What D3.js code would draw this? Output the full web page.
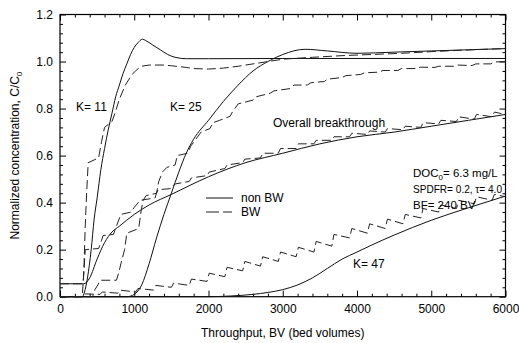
<!DOCTYPE html>
<html>
<head>
<meta charset="utf-8">
<script src="https://cdn.jsdelivr.net/npm/d3@7"></script>
<style>
  html, body { margin: 0; padding: 0; background: #fff; }
  svg text { font-family: "Liberation Sans", Arial, Helvetica, sans-serif; fill: #000; }
</style>
</head>
<body>
<svg id="chart" width="519" height="343"></svg>
<script>
// Breakthrough curves, [throughput BV, C/C0]
const k11NonBW = [[0,0],[300,0],[330,0.02],[370,0.08],[420,0.2],[460,0.33],[500,0.42],[550,0.54],[600,0.63],[650,0.71],[700,0.78],[750,0.85],[800,0.9],[850,0.95],[900,0.99],[950,1.03],[1000,1.06],[1050,1.08],[1110,1.095],[1150,1.09],[1250,1.07],[1350,1.05],[1450,1.03],[1550,1.018],[1700,1.012],[2000,1.012],[3000,1.013],[4000,1.013],[5000,1.013],[6000,1.013]];
const k11BW = [[0,0],[300,0],[320,0.1],[340,0.3],[360,0.45],[380,0.57],[520,0.59],[560,0.66],[600,0.72],[700,0.745],[740,0.78],[800,0.84],[880,0.9],[960,0.94],[1000,0.955],[1060,0.972],[1100,0.98],[1200,0.985],[1400,0.985],[1500,0.982],[1700,0.975],[1800,0.97],[2000,0.968],[2200,0.972],[2400,0.98],[2600,0.99],[2800,1.0],[3000,1.01],[3400,1.018],[3800,1.025],[4200,1.03],[4600,1.035],[5000,1.042],[5400,1.048],[5800,1.053],[6000,1.055]];

const k25NonBW = [[0,0],[900,0],[1000,0.01],[1100,0.05],[1200,0.14],[1300,0.25],[1400,0.35],[1500,0.44],[1600,0.53],[1700,0.61],[1800,0.67],[2000,0.75],[2200,0.83],[2400,0.9],[2600,0.96],[2800,1.0],[3000,1.03],[3300,1.052],[3600,1.045],[4000,1.035],[4500,1.04],[5000,1.045],[5500,1.05],[6000,1.055]];
const k25BW = [[0,0],[440,0],[470,0.03],[510,0.05],[540,0.07],[760,0.07],[790,0.1],[820,0.14],[870,0.2],[900,0.27],[1060,0.29],[1090,0.36],[1120,0.41],[1160,0.43],[1300,0.44],[1330,0.49],[1380,0.53],[1440,0.55],[1550,0.56],[1580,0.6],[1720,0.61],[1760,0.64],[1830,0.67],[1900,0.7],[2020,0.715],[2060,0.74],[2150,0.75],[2290,0.767],[2330,0.79],[2400,0.82],[2600,0.836],[2640,0.85],[2830,0.865],[2880,0.875],[3100,0.885],[3150,0.9],[3330,0.9],[3380,0.91],[3560,0.915],[3600,0.925],[3800,0.932],[3850,0.94],[4050,0.945],[4100,0.952],[4300,0.955],[4350,0.962],[4550,0.962],[4600,0.97],[4800,0.97],[4850,0.976],[5050,0.975],[5100,0.98],[5300,0.98],[5350,0.985],[5550,0.983],[5600,0.99],[5800,0.99],[5850,0.998],[6000,1.0]];

const k47NonBW = [[0,0],[2000,0],[2300,0.003],[2600,0.01],[2800,0.018],[3000,0.03],[3200,0.05],[3400,0.08],[3600,0.12],[3800,0.16],[4000,0.19],[4200,0.22],[4500,0.262],[5000,0.325],[5500,0.378],[6000,0.428]];
const k47BW = [[0,0],[300,0],[330,0.012],[540,0.01],[570,0.02],[780,0.015],[810,0.028],[1020,0.02],[1050,0.035],[1260,0.028],[1290,0.048],[1500,0.04],[1530,0.058],[1740,0.048],[1770,0.075],[1980,0.065],[2010,0.1],[2220,0.085],[2250,0.125],[2460,0.11],[2490,0.15],[2700,0.13],[2730,0.17],[2940,0.15],[2970,0.19],[3180,0.17],[3210,0.21],[3420,0.19],[3450,0.235],[3660,0.215],[3690,0.265],[3900,0.25],[3930,0.29],[4140,0.27],[4170,0.31],[4380,0.29],[4410,0.33],[4620,0.31],[4650,0.35],[4860,0.335],[4890,0.375],[5100,0.36],[5130,0.39],[5340,0.375],[5370,0.41],[5580,0.395],[5610,0.425],[5820,0.41],[5850,0.435],[6000,0.425]];

const overallNonBW = [[0,0.055],[320,0.055],[400,0.08],[500,0.16],[600,0.23],[700,0.275],[800,0.3],[1000,0.35],[1200,0.39],[1500,0.435],[2000,0.51],[2500,0.57],[3000,0.61],[3500,0.65],[4000,0.68],[4500,0.7],[5000,0.725],[5500,0.75],[6000,0.775]];
const overallBW = [[0,0.055],[310,0.055],[325,0.12],[340,0.2],[520,0.205],[560,0.24],[580,0.26],[720,0.265],[760,0.3],[820,0.35],[960,0.36],[1000,0.38],[1080,0.41],[1280,0.42],[1300,0.44],[1320,0.455],[1500,0.46],[1530,0.475],[1560,0.48],[1740,0.49],[1770,0.505],[1980,0.515],[2010,0.53],[2220,0.545],[2250,0.56],[2460,0.57],[2490,0.585],[2700,0.59],[2730,0.61],[2940,0.61],[2970,0.63],[3180,0.63],[3210,0.65],[3420,0.65],[3450,0.665],[3660,0.665],[3690,0.68],[3900,0.68],[3930,0.695],[4140,0.69],[4170,0.705],[4380,0.7],[4410,0.715],[4620,0.71],[4650,0.725],[4860,0.72],[4890,0.74],[5100,0.735],[5130,0.75],[5340,0.745],[5370,0.765],[5580,0.755],[5610,0.775],[5820,0.765],[5850,0.785],[6000,0.775]];

// Axis ticks
const xMajorTicks = [0, 1000, 2000, 3000, 4000, 5000, 6000];
const xMinorTicks = [200,400,600,800,1200,1400,1600,1800,2200,2400,2600,2800,3200,3400,3600,3800,4200,4400,4600,4800,5200,5400,5600,5800];
const yMajorTicks = [0, 0.2, 0.4, 0.6, 0.8, 1.0, 1.2];
const yMinorTicks = [0.04,0.08,0.12,0.16,0.24,0.28,0.32,0.36,0.44,0.48,0.52,0.56,0.64,0.68,0.72,0.76,0.84,0.88,0.92,0.96,1.04,1.08,1.12,1.16];

const svg = d3.select("#chart");
const plotLeft = 60, plotRight = 505.5, plotTop = 14.5, plotBottom = 296.7;

const x = d3.scaleLinear().domain([0, 6000]).range([plotLeft, plotRight]);
const y = d3.scaleLinear().domain([0, 1.2]).range([plotBottom, plotTop]);

// Frame
svg.append("rect")
  .attr("x", plotLeft).attr("y", plotTop)
  .attr("width", plotRight - plotLeft).attr("height", plotBottom - plotTop)
  .attr("fill", "none").attr("stroke", "#000").attr("stroke-width", 1.2);

function styleAxis(g) {
  g.select(".domain").remove();
  g.selectAll("line").attr("stroke", "#000").attr("stroke-width", 1);
  g.selectAll("text").attr("font-size", 12).attr("fill", "#000")
    .attr("font-family", "Liberation Sans, Arial, sans-serif");
}

// Bottom axis with labels, inward ticks
svg.append("g").attr("transform", `translate(0,${plotBottom})`)
  .call(d3.axisBottom(x).tickValues(xMajorTicks).tickSize(-6).tickPadding(8).tickFormat(d3.format("d")))
  .call(styleAxis);
svg.append("g").attr("transform", `translate(0,${plotBottom})`)
  .call(d3.axisBottom(x).tickValues(xMinorTicks).tickSize(-3).tickFormat(""))
  .call(styleAxis);
// Top axis
svg.append("g").attr("transform", `translate(0,${plotTop})`)
  .call(d3.axisTop(x).tickValues(xMajorTicks).tickSize(-6).tickFormat(""))
  .call(styleAxis);
svg.append("g").attr("transform", `translate(0,${plotTop})`)
  .call(d3.axisTop(x).tickValues(xMinorTicks).tickSize(-3).tickFormat(""))
  .call(styleAxis);
// Left axis with labels
svg.append("g").attr("transform", `translate(${plotLeft},0)`)
  .call(d3.axisLeft(y).tickValues(yMajorTicks).tickSize(-6).tickPadding(7).tickFormat(d3.format(".1f")))
  .call(styleAxis);
svg.append("g").attr("transform", `translate(${plotLeft},0)`)
  .call(d3.axisLeft(y).tickValues(yMinorTicks).tickSize(-3).tickFormat(""))
  .call(styleAxis);
// Right axis
svg.append("g").attr("transform", `translate(${plotRight},0)`)
  .call(d3.axisRight(y).tickValues(yMajorTicks).tickSize(-6).tickFormat(""))
  .call(styleAxis);
svg.append("g").attr("transform", `translate(${plotRight},0)`)
  .call(d3.axisRight(y).tickValues(yMinorTicks).tickSize(-3).tickFormat(""))
  .call(styleAxis);

// Curves
const smooth = d3.line().x(d => x(d[0])).y(d => y(d[1])).curve(d3.curveMonotoneX);
const straight = d3.line().x(d => x(d[0])).y(d => y(d[1]));
const plot = svg.append("g");

[k11NonBW, k25NonBW, k47NonBW, overallNonBW].forEach(s => {
  plot.append("path").attr("d", smooth(s))
    .attr("fill", "none").attr("stroke", "#111").attr("stroke-width", 1);
});
[k11BW, k25BW, k47BW, overallBW].forEach(s => {
  plot.append("path").attr("d", straight(s))
    .attr("fill", "none").attr("stroke", "#222").attr("stroke-width", 1)
    .attr("stroke-dasharray", "9,4");
});

// Legend
const legend = svg.append("g");
legend.append("line").attr("x1", 206).attr("x2", 233).attr("y1", 198).attr("y2", 198)
  .attr("stroke", "#111").attr("stroke-width", 1);
legend.append("line").attr("x1", 206).attr("x2", 233).attr("y1", 212).attr("y2", 212)
  .attr("stroke", "#222").attr("stroke-width", 1).attr("stroke-dasharray", "13,4,9,4");
legend.append("text").attr("x", 241).attr("y", 202).attr("font-size", 12).text("non BW");
legend.append("text").attr("x", 241).attr("y", 216).attr("font-size", 12).text("BW");

// Annotations
const notes = svg.append("g").attr("font-size", 12);
notes.append("text").attr("x", 76).attr("y", 111).text("K= 11");
notes.append("text").attr("x", 170).attr("y", 111).text("K= 25");
notes.append("text").attr("x", 353).attr("y", 268).text("K= 47");
notes.append("text").attr("x", 273).attr("y", 127).text("Overall breakthrough");

// Operating conditions
const cond = svg.append("g").attr("font-size", 11.5);
const doc = cond.append("text").attr("x", 413).attr("y", 177);
doc.append("tspan").text("DOC");
doc.append("tspan").attr("font-size", 8).attr("dy", 3).text("0");
doc.append("tspan").attr("dy", -3).text("= 6.3 mg/L");
cond.append("text").attr("x", 413).attr("y", 193)
  .attr("textLength", 89).attr("lengthAdjust", "spacingAndGlyphs")
  .text("SPDFR= 0.2, \u03C4= 4.0");
cond.append("text").attr("x", 413).attr("y", 209).text("BF= 240 BV");

// Axis titles
svg.append("text").attr("x", (plotLeft + plotRight) / 2).attr("y", 337)
  .attr("text-anchor", "middle").attr("font-size", 12)
  .text("Throughput, BV (bed volumes)");
const yt = svg.append("text")
  .attr("transform", `translate(19,${(plotTop + plotBottom) / 2}) rotate(-90)`)
  .attr("text-anchor", "middle").attr("font-size", 12);
yt.append("tspan").text("Normalized concentration, C/C");
yt.append("tspan").attr("font-size", 8).attr("dy", 3).text("0");
</script>
</body>
</html>
